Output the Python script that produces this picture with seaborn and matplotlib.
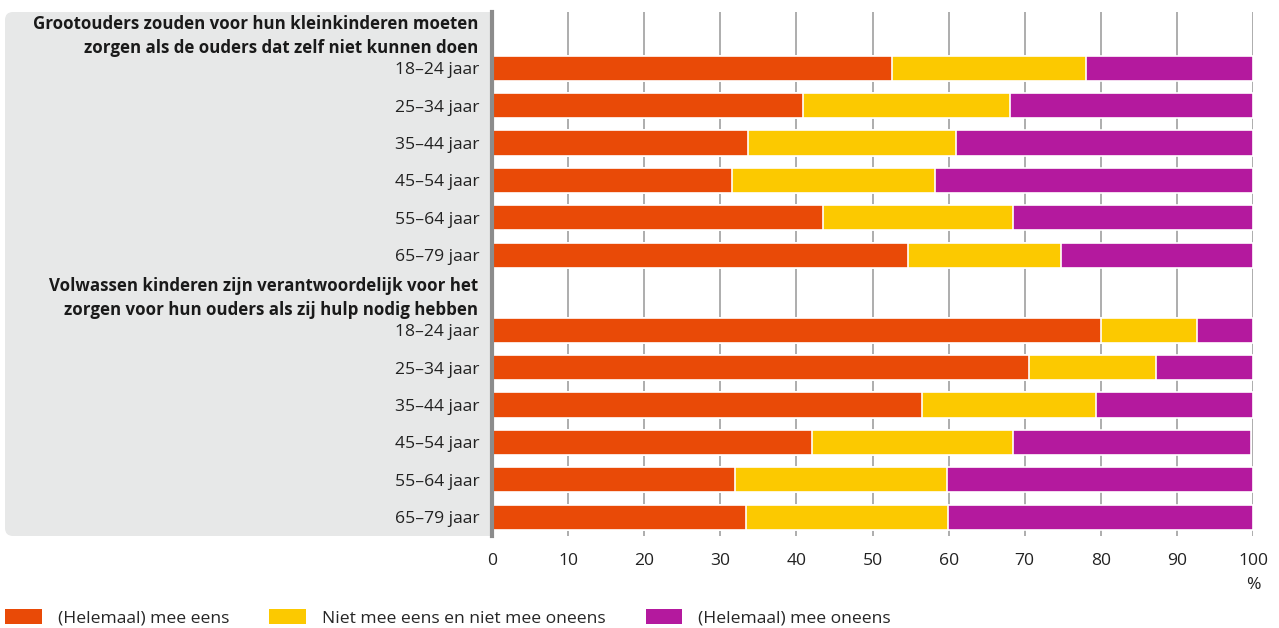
import numpy as np
import pandas as pd
import matplotlib
matplotlib.use('Agg')
import matplotlib.pyplot as plt
import seaborn as sns
from matplotlib.patches import FancyBboxPatch, Patch
from matplotlib.transforms import IdentityTransform

# data (percentages)
age_groups = ['18–24 jaar', '25–34 jaar', '35–44 jaar', '45–54 jaar', '55–64 jaar', '65–79 jaar']

header_1 = 'Grootouders zouden voor hun kleinkinderen moeten\nzorgen als de ouders dat zelf niet kunnen doen'
header_2 = 'Volwassen kinderen zijn verantwoordelijk voor het\nzorgen voor hun ouders als zij hulp nodig hebben'

eens_1 = [52.6, 40.9, 33.7, 31.5, 43.5, 54.7]
neutraal_1 = [25.5, 27.2, 27.3, 26.7, 25.0, 20.1]
oneens_1 = [21.9, 31.9, 39.0, 41.8, 31.5, 25.2]

eens_2 = [80.0, 70.6, 56.5, 42.1, 31.9, 33.4]
neutraal_2 = [12.6, 16.7, 22.9, 26.3, 27.9, 26.5]
oneens_2 = [7.4, 12.7, 20.6, 31.4, 40.2, 40.1]

series_names = ['(Helemaal) mee eens', 'Niet mee eens en niet mee oneens', '(Helemaal) mee oneens']
colors = ['#e94a07', '#fcc900', '#b4199e']

rows = []
for i, age in enumerate(age_groups):
    rows.append({'key': 'a' + str(i), 'label': age,
                 'eens': eens_1[i], 'neutraal': neutraal_1[i], 'oneens': oneens_1[i]})
for i, age in enumerate(age_groups):
    rows.append({'key': 'b' + str(i), 'label': age,
                 'eens': eens_2[i], 'neutraal': neutraal_2[i], 'oneens': oneens_2[i]})
df = pd.DataFrame(rows)
df['cum1'] = df['eens']
df['cum2'] = df['eens'] + df['neutraal']
df['cum3'] = df['eens'] + df['neutraal'] + df['oneens']

order = ['h1'] + ['a' + str(i) for i in range(6)] + ['h2'] + ['b' + str(i) for i in range(6)]
tick_labels = [''] + age_groups + [''] + age_groups

sns.set_style('white')
plt.rcParams['font.family'] = ['Open Sans', 'DejaVu Sans']

fig = plt.figure(figsize=(12.79, 6.28), dpi=100)
ax = fig.add_axes([492 / 1279, 1 - 536 / 628, (1253 - 492) / 1279, 524 / 628])

# grey label panel behind the category labels
panel = FancyBboxPatch((5, 628 - 536), 495, 524,
                       boxstyle='round,pad=0,rounding_size=8',
                       transform=IdentityTransform(), facecolor='#e7e8e8',
                       edgecolor='none', zorder=-1)
fig.patches.append(panel)

for col, c in zip(['cum3', 'cum2', 'cum1'], colors[::-1]):
    sns.barplot(data=df, y='key', x=col, order=order, color=c, orient='h',
                width=0.67, edgecolor='white', linewidth=1.2, errorbar=None,
                saturation=1, ax=ax, zorder=3)

ax.set_xlim(0, 100)
ax.set_ylim(13.5, -0.5)
ax.set_xticks(np.arange(0, 101, 10))
ax.grid(axis='x', color='#a0a0a0', linewidth=1.2, zorder=0)
ax.grid(axis='y', visible=False)
ax.set_axisbelow(True)
for s in ['top', 'right', 'bottom']:
    ax.spines[s].set_visible(False)
ax.spines['left'].set_color('#8c8c8c')
ax.spines['left'].set_linewidth(3)
ax.spines['left'].set_zorder(5)

ax.set_yticks(range(len(order)))
ax.set_yticklabels(tick_labels)
ax.tick_params(axis='y', length=0, pad=9, labelsize=12.6, labelcolor='#222222')
ax.tick_params(axis='x', length=0, pad=12, labelsize=12.6, labelcolor='#222222')
ax.set_xlabel('')
ax.set_ylabel('')

# bold two-line group headers
for pos, txt in [(order.index('h1'), header_1), (order.index('h2'), header_2)]:
    ax.annotate(txt, xy=(0, pos), xycoords=('axes fraction', 'data'),
                xytext=(-14, -5), textcoords='offset pixels',
                ha='right', va='center', multialignment='right',
                fontsize=12.2, fontweight='bold', color='#1a1a1a', linespacing=1.45)

fig.text(1253 / 1279, 1 - 585 / 628, '%', ha='center', va='center',
         fontsize=12.6, color='#222222')

handles = [Patch(facecolor=c, edgecolor='none') for c in colors]
fig.legend(handles, series_names, loc='center left', bbox_to_anchor=(5 / 1279, 1 - 618 / 628),
           ncol=3, frameon=False, fontsize=12.6, handlelength=2.1, handleheight=0.9,
           handletextpad=0.9, columnspacing=2.3, borderaxespad=0, borderpad=0)

fig.savefig('out.png', dpi=100)
